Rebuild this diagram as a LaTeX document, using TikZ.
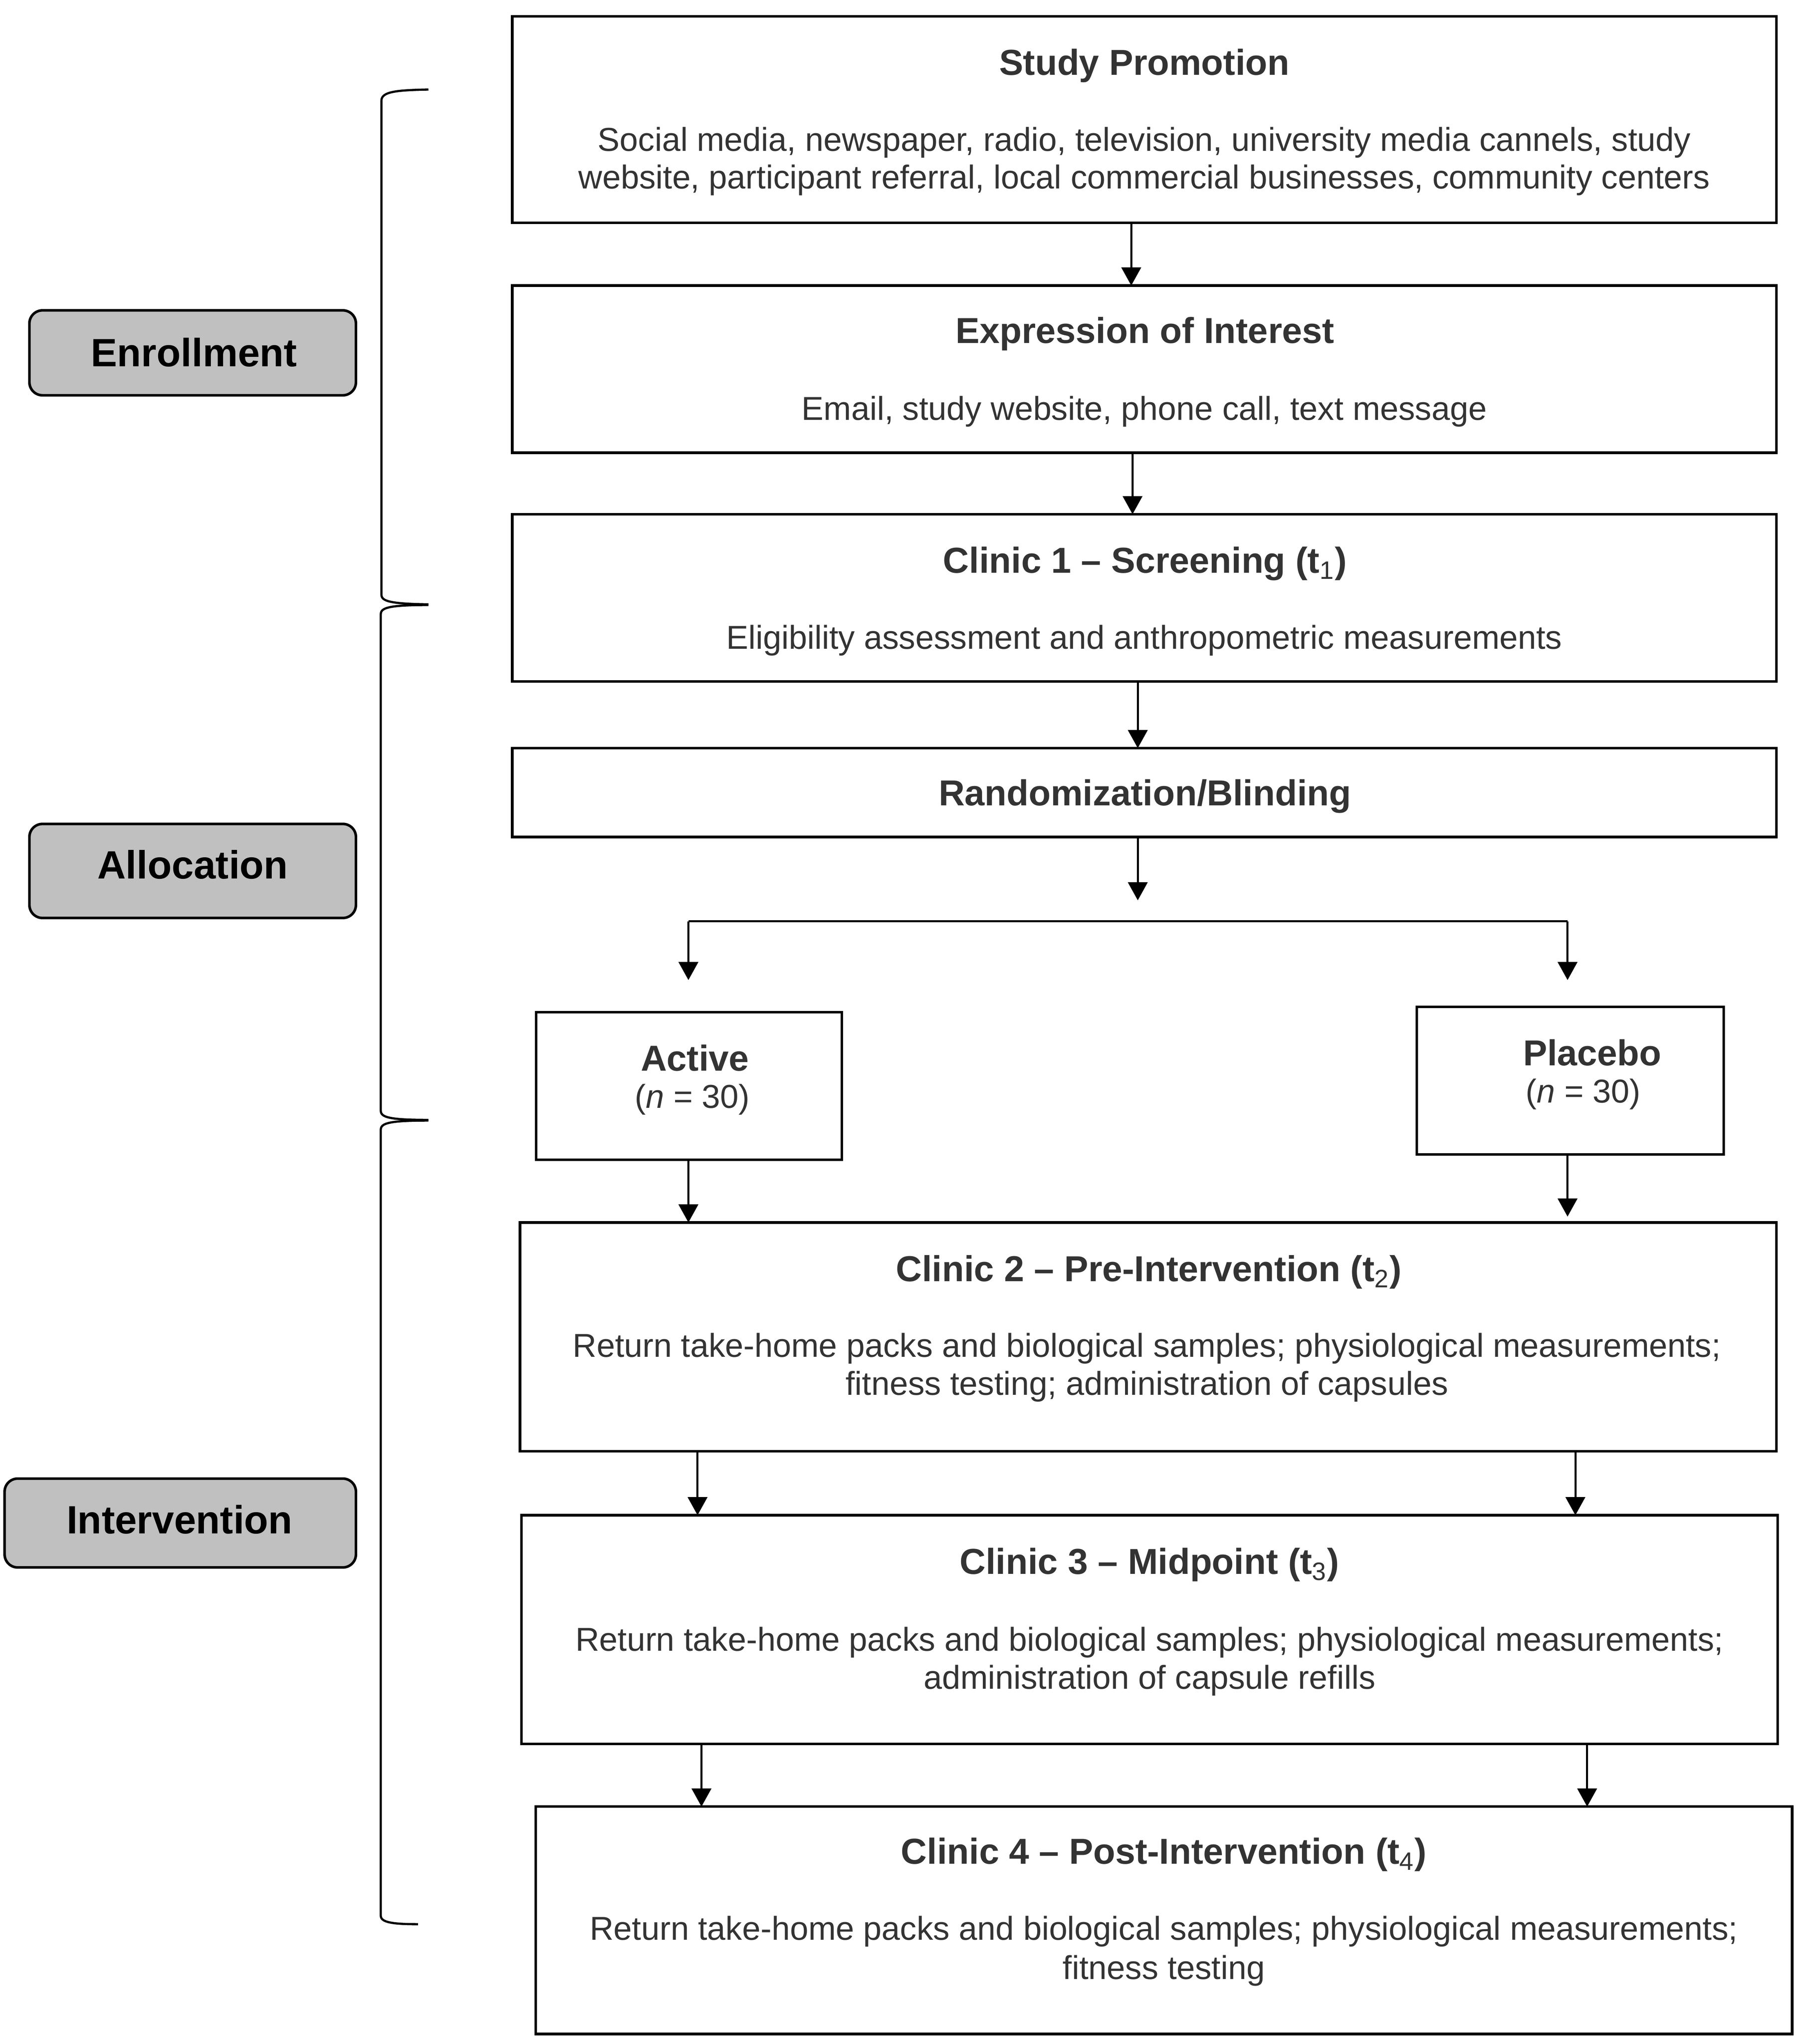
\documentclass[tikz,border=0pt]{standalone}
\usepackage{fontspec}
\setmainfont{Liberation Sans}
\usetikzlibrary{arrows.meta}
\definecolor{txt}{HTML}{333333}
\definecolor{labfill}{HTML}{C0C0C0}
\begin{document}
\begin{tikzpicture}[x=0.02cm,y=-0.02cm,
  box/.style={draw=black,line width=1.13pt,fill=white,inner sep=0pt,outer sep=0pt},
  labbox/.style={draw=black,line width=1.13pt,fill=labfill,rounded corners=0.2cm,inner sep=0pt,outer sep=0pt},
  ttl/.style={font=\fontsize{15.7}{18}\selectfont\bfseries,text=txt,anchor=base,inner sep=0pt},
  bdy/.style={font=\fontsize{14.4}{16}\selectfont,text=txt,anchor=base,inner sep=0pt},
  lab/.style={font=\fontsize{17.2}{20}\selectfont\bfseries,text=black,anchor=base,inner sep=0pt},
  arr/.style={line width=0.9pt,-{Triangle[length=7.9pt,width=8.5pt]}},
  brc/.style={line width=0.95pt,line cap=butt}]
\useasboundingbox (0,0) rectangle (1380,1564.2);

% main boxes
\node[box,minimum width=19.36cm,minimum height=3.16cm] (promo) at (876,91.5) {};
\node[box,minimum width=19.36cm,minimum height=2.56cm] (interest) at (876,282.5) {};
\node[box,minimum width=19.36cm,minimum height=2.56cm] (clinic1) at (876,457.5) {};
\node[box,minimum width=19.36cm,minimum height=1.36cm] (random) at (876,606.5) {};
\node[box,minimum width=4.68cm,minimum height=2.26cm] (active) at (527.5,831) {};
\node[box,minimum width=4.70cm,minimum height=2.26cm] (placebo) at (1202,827) {};
\node[box,minimum width=19.24cm,minimum height=3.50cm] (clinic2) at (879,1023) {};
\node[box,minimum width=19.24cm,minimum height=3.50cm] (clinic3) at (880,1247) {};
\node[box,minimum width=19.24cm,minimum height=3.48cm] (clinic4) at (891,1469.5) {};

% texts
\node[ttl] (promoT) at (876,57.5) {Study Promotion};
\node[bdy] (promoB1) at (876,115.5) {Social media, newspaper, radio, television, university media cannels, study};
\node[bdy] (promoB2) at (876,144.5) {website, participant referral, local commercial businesses, community centers};
\node[ttl] (interestT) at (876.5,262.5) {Expression of Interest};
\node[bdy] (interestB) at (876,321.5) {Email, study website, phone call, text message};
\node[ttl] (clinic1T) at (876.5,438.5) {Clinic 1 – Screening (t\textsubscript{\mdseries 1})};
\node[bdy] (clinic1B) at (876,496.5) {Eligibility assessment and anthropometric measurements};
\node[ttl] (randomT) at (876.5,616.5) {Randomization/Blinding};
\node[ttl] (activeT) at (532,819.5) {Active};
\node[bdy] (activeN) at (530,848) {(\textit{n} = 30)};
\node[ttl] (placeboT) at (1219,815.5) {Placebo};
\node[bdy] (placeboN) at (1212,844) {(\textit{n} = 30)};
\node[ttl] (clinic2T) at (879.5,980.5) {Clinic 2 – Pre-Intervention (t\textsubscript{\mdseries 2})};
\node[bdy] (clinic2B1) at (878,1038.5) {Return take-home packs and biological samples; physiological measurements;};
\node[bdy] (clinic2B2) at (878,1067.5) {fitness testing; administration of capsules};
\node[ttl] (clinic3T) at (880,1204.5) {Clinic 3 – Midpoint (t\textsubscript{\mdseries 3})};
\node[bdy] (clinic3B1) at (880,1263.5) {Return take-home packs and biological samples; physiological measurements;};
\node[bdy] (clinic3B2) at (880,1292.5) {administration of capsule refills};
\node[ttl] (clinic4T) at (891,1426.5) {Clinic 4 – Post-Intervention (t\textsubscript{\mdseries 4})};
\node[bdy] (clinic4B1) at (891,1484.5) {Return take-home packs and biological samples; physiological measurements;};
\node[bdy] (clinic4B2) at (891,1514.5) {fitness testing};

% side labels
\node[labbox,minimum width=5.0cm,minimum height=1.30cm] (enrollbox) at (147.5,270) {};
\node[lab] (enrollT) at (148.5,280.5) {Enrollment};
\node[labbox,minimum width=5.0cm,minimum height=1.44cm] (allocbox) at (147.5,666.5) {};
\node[lab] (allocT) at (147.5,672.5) {Allocation};
\node[labbox,minimum width=5.38cm,minimum height=1.36cm] (intervbox) at (138,1165.5) {};
\node[lab] (intervT) at (137.5,1173.5) {Intervention};

% braces
\draw[brc] (328,68.5) .. controls (304,69) and (292,70) .. (292,77) -- (292,455)
  .. controls (292,460) and (298,462) .. (328,462.5);
\draw[brc] (328,463) .. controls (298,463) and (291.5,465) .. (291.5,470) -- (291.5,850)
  .. controls (291.5,855) and (298,857) .. (328,857);
\draw[brc] (328,857.5) .. controls (298,857.5) and (291.5,859.5) .. (291.5,864.5) -- (291.5,1466)
  .. controls (291.5,1471) and (300,1472.5) .. (320,1472.5);

% column coordinates
\coordinate (x866) at (866,0);
\coordinate (x867) at (867,0);
\coordinate (x871) at (871,0);
\coordinate (x527) at (527,0);
\coordinate (x1200) at (1200,0);
\coordinate (x534) at (534,0);
\coordinate (x1206) at (1206,0);
\coordinate (x537) at (537,0);
\coordinate (x1215) at (1215,0);

% connectors
\draw[arr] (promo.south -| x866) -- (interest.north -| x866);
\draw[arr] (interest.south -| x867) -- (clinic1.north -| x867);
\draw[arr] (clinic1.south -| x871) -- (random.north -| x871);
\coordinate (splitend) at (871,689);
\draw[arr] (random.south -| x871) -- (splitend);
\coordinate (bl) at (527,705);
\coordinate (br) at (1200,705);
\coordinate (al) at (527,750);
\coordinate (ar) at (1200,750);
\draw[line width=0.9pt] (bl) -- (br);
\draw[arr] (bl) -- (al);
\draw[arr] (br) -- (ar);
\draw[arr] (active.south -| x527) -- (clinic2.north -| x527);
\coordinate (pe) at (1200,931);
\draw[arr] (placebo.south -| x1200) -- (pe);
\draw[arr] (clinic2.south -| x534) -- (clinic3.north -| x534);
\draw[arr] (clinic2.south -| x1206) -- (clinic3.north -| x1206);
\draw[arr] (clinic3.south -| x537) -- (clinic4.north -| x537);
\draw[arr] (clinic3.south -| x1215) -- (clinic4.north -| x1215);
\end{tikzpicture}
\end{document}
